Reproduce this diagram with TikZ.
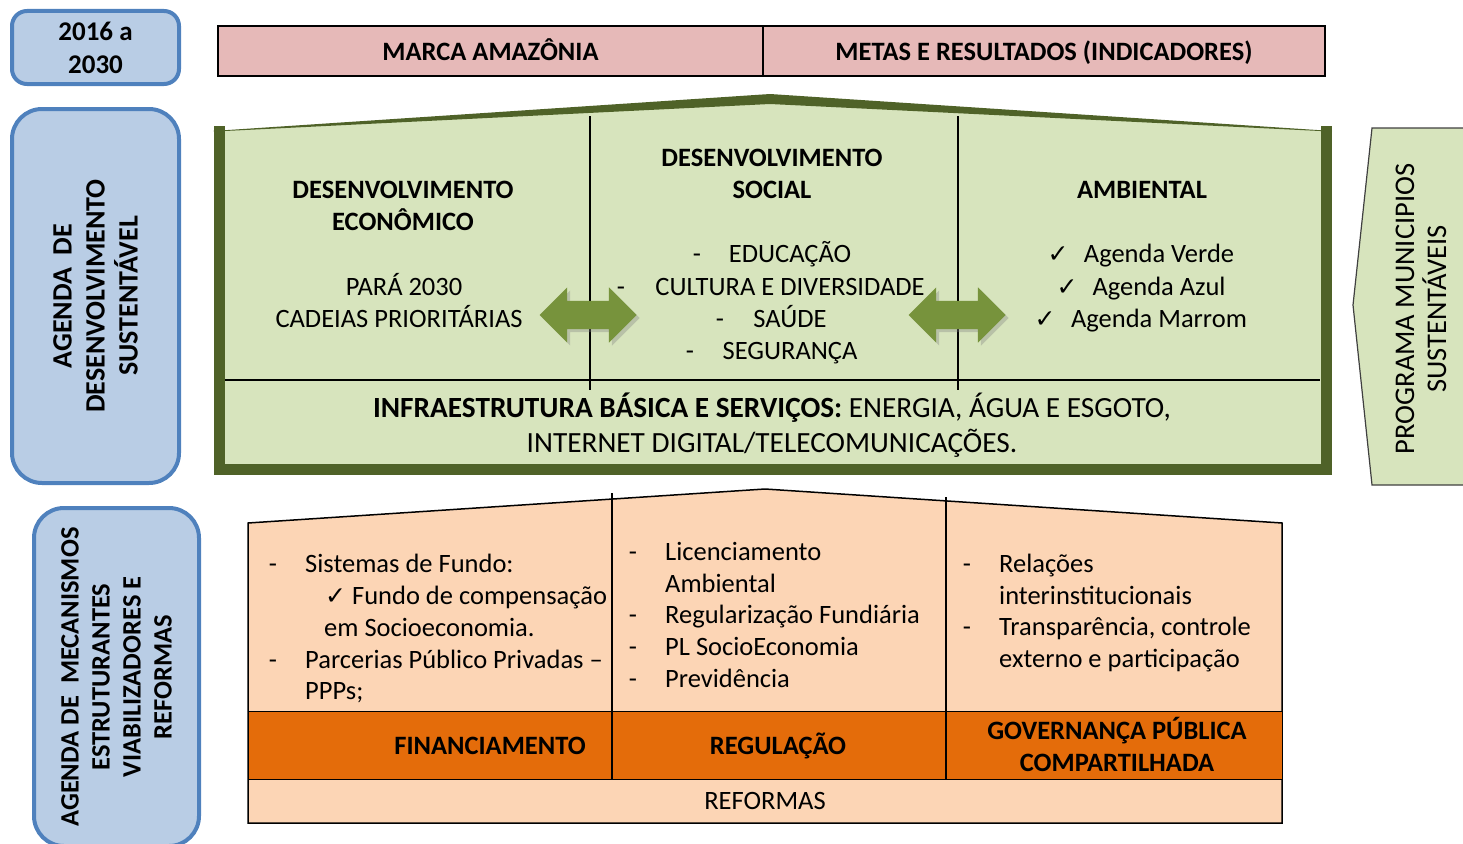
\documentclass[tikz,border=0pt]{standalone}
\usepackage{fontspec}
\setmainfont{Carlito}
\newfontfamily\symfont{DejaVu Sans}
\usetikzlibrary{shapes.arrows,shadows}

\definecolor{azulcx}{HTML}{B9CDE5}
\definecolor{azulbd}{HTML}{4F81BD}
\definecolor{rosacx}{HTML}{E6B9B8}
\definecolor{verdecx}{HTML}{D7E4BD}
\definecolor{verdeesc}{HTML}{4F6228}
\definecolor{verdeseta}{HTML}{77933C}
\definecolor{pessego}{HTML}{FCD5B5}
\definecolor{laranja}{HTML}{E46C0A}

\newcommand{\ok}{{\symfont\fontsize{25}{25}\selectfont ✓}}

\tikzset{
  base/.style={inner sep=0pt, font=\fontsize{26.5}{32}\selectfont},
  negrito/.style={inner sep=0pt, font=\fontsize{26.5}{32}\selectfont\bfseries},
  item/.style={base, anchor=base west},
  hifen/.style={base, anchor=base},
  centro/.style={base, anchor=base},
  titulo/.style={negrito, anchor=base},
  caixa/.style={draw=azulbd, fill=azulcx, line width=4pt, align=center, inner sep=0pt},
  cabec/.style={draw=black, fill=rosacx, line width=2.5pt, minimum height=50, inner sep=0pt,
    text height=18, text depth=0, negrito},
  seta/.style={double arrow, fill=verdeseta, minimum height=97, inner xsep=0pt, inner ysep=14pt,
    double arrow head extend=13.5,
    drop shadow={opacity=0.35, shadow xshift=3pt, shadow yshift=-3pt}}
}

\begin{document}
\begin{tikzpicture}[x=1pt,y=-1pt]
  \useasboundingbox (0,0) rectangle (1463,843);
  \clip (0,0) rectangle (1463,843);

  % caixas azuis
  \node[caixa, rounded corners=15, minimum width=167, minimum height=73,
    font=\fontsize{27}{33}\selectfont\bfseries] (periodo) at (95.5,47.5) {2016 a\\2030};
  \node[caixa, rounded corners=30, rotate=90, minimum width=374, minimum height=167,
    font=\fontsize{28}{33}\selectfont\bfseries] (agendads) at (95.5,296)
    {AGENDA~~DE\\DESENVOLVIMENTO\\SUSTENTÁVEL};
  \node[caixa, rounded corners=30, rotate=90, minimum width=338, minimum height=165,
    font=\fontsize{26.5}{31}\selectfont\bfseries] (agendamec) at (116.5,677)
    {AGENDA DE~~MECANISMOS\\ESTRUTURANTES\\VIABILIZADORES E\\REFORMAS};

  % cabecalho
  \node[cabec, minimum width=545] (marca) at (490.5,51) {MARCA AMAZÔNIA};
  \node[cabec, minimum width=562] (metas) at (1044,51) {METAS E RESULTADOS (INDICADORES)};

  % casa verde
  \fill[verdecx] (219,131) -- (770,100) -- (1326,131) -- (1326,469) -- (219,469) -- cycle;
  \draw[verdeesc, line width=11] (219,126) -- (219,469) -- (1326,469) -- (1326,126);
  \fill[verdeesc] (213,131) -- (770,94) -- (1332,131) -- (1320,131) -- (770,104) -- (225,131) -- cycle;
  \draw[line width=1.5] (225,380) -- (1320,380);
  \draw[line width=1.2] (590,116) -- (590,390);
  \draw[line width=1.2] (958,116) -- (958,390);

  \node[titulo, align=center] (econ) at (403,230) {DESENVOLVIMENTO\\ECONÔMICO};
  \node[centro] (para) at (404,295) {PARÁ 2030};
  \node[centro] (cadeias) at (399,327) {CADEIAS PRIORITÁRIAS};

  \node[titulo, align=center] (social) at (772,198) {DESENVOLVIMENTO\\SOCIAL};
  \node[centro] (educ) at (790,262) {EDUCAÇÃO};
  \node[centro] (cult) at (790,295) {CULTURA E DIVERSIDADE};
  \node[centro] (saude) at (790,327) {SAÚDE};
  \node[centro] (seg) at (790,359) {SEGURANÇA};
  \foreach \x/\y [count=\i] in {697/262, 621/295, 720/327, 690/359}
    \node[hifen] (hs\i) at (\x,\y) {-};

  \node[titulo] (amb) at (1142,198) {AMBIENTAL};
  \node[centro] (verde) at (1159,262) {Agenda Verde};
  \node[centro] (azul) at (1159,295) {Agenda Azul};
  \node[centro] (marrom) at (1159,327) {Agenda Marrom};
  \foreach \x/\y [count=\i] in {1058/262, 1067/295, 1045/327}
    \node[hifen] (ck\i) at (\x,\y) {\ok};

  \node[seta] (setaesq) at (588,315) {};
  \node[seta] (setadir) at (957,315) {};

  \node[base, anchor=base, align=center, font=\fontsize{29.3}{35}\selectfont] (infra) at (772,452)
    {\textbf{INFRAESTRUTURA BÁSICA E SERVIÇOS:} ENERGIA, ÁGUA E ESGOTO,\\
     INTERNET DIGITAL/TELECOMUNICAÇÕES.};

  % programa
  \draw[fill=verdecx, draw=black!75, line width=1.2] (1372,128) -- (1475,128) -- (1475,485)
    -- (1372,485) -- (1353,305) -- cycle;
  \node[base, rotate=90, align=center, font=\fontsize{28.5}{32}\selectfont] (programa) at (1421,309)
    {PROGRAMA MUNICIPIOS\\SUSTENTÁVEIS};

  % casa laranja
  \draw[fill=pessego, line width=1.5] (248,523) -- (765,489) -- (1282,523) -- (1282,823)
    -- (248,823) -- cycle;
  \draw[fill=laranja, line width=1] (248,711) rectangle (1282,779);
  \draw[line width=1.2] (612,493) -- (612,779);
  \draw[line width=1.2] (946,497) -- (946,779);

  \node[item] (fundo) at (305,572) {Sistemas de Fundo:};
  \node[item] (fcomp) at (325,604) {\ok\ Fundo de compensação};
  \node[item] (socioec) at (324,636) {em Socioeconomia.};
  \node[item] (ppp) at (305,668) {Parcerias Público Privadas –};
  \node[item] (ppps) at (305,699) {PPPs;};

  \node[item] (lic) at (665,560) {Licenciamento};
  \node[item] (licamb) at (665,592) {Ambiental};
  \node[item] (regul) at (665,623) {Regularização Fundiária};
  \node[item] (pl) at (665,655) {PL SocioEconomia};
  \node[item] (prev) at (665,687) {Previdência};

  \node[item] (rel) at (999,572) {Relações};
  \node[item] (inter) at (999,604) {interinstitucionais};
  \node[item] (transp) at (999,635) {Transparência, controle};
  \node[item] (extern) at (999,667) {externo e participação};

  \foreach \x/\y [count=\i] in {273/572, 273/668, 633/560, 633/623, 633/655, 633/687, 967/572, 967/635}
    \node[hifen] (hb\i) at (\x,\y) {-};

  \node[titulo] (financ) at (490,754) {FINANCIAMENTO};
  \node[titulo] (regulacao) at (778,754) {REGULAÇÃO};
  \node[titulo, align=center] (govern) at (1117,771) {GOVERNANÇA PÚBLICA\\COMPARTILHADA};
  \node[centro] (reformas) at (765,809) {REFORMAS};
\end{tikzpicture}
\end{document}
